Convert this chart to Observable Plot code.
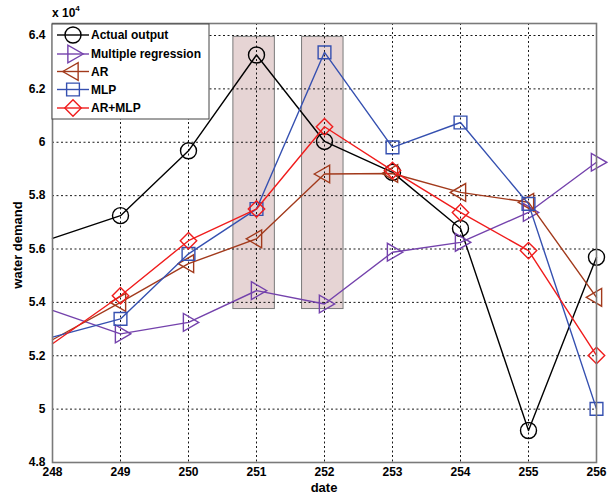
<!DOCTYPE html>
<html>
<head>
<meta charset="utf-8">
<script src="https://cdn.jsdelivr.net/npm/d3@7"></script>
<script src="https://cdn.jsdelivr.net/npm/@observablehq/plot@0.6"></script>
<style>
  body { margin: 0; background: #fff; }
  #chart { position: relative; width: 616px; height: 497px; }
  #chart svg { font-family: "Liberation Sans", Arial, sans-serif; }
</style>
</head>
<body>
<div id="chart"></div>
<script>
// Daily water demand (x 10^4) and the four model forecasts
const dates = [248, 249, 250, 251, 252, 253, 254, 255, 256];
const actualOutput       = [5.640, 5.725, 5.968, 6.327, 6.003, 5.887, 5.677, 4.920, 5.569];
const multipleRegression = [5.370, 5.282, 5.325, 5.444, 5.394, 5.588, 5.625, 5.737, 5.925];
const arForecast         = [5.260, 5.400, 5.545, 5.638, 5.881, 5.883, 5.812, 5.775, 5.419];
const mlpForecast        = [5.270, 5.338, 5.582, 5.750, 6.337, 5.981, 6.074, 5.769, 5.001];
const arMlpForecast      = [5.245, 5.425, 5.631, 5.750, 6.058, 5.894, 5.737, 5.594, 5.201];

const seriesNames = ["Actual output", "Multiple regression", "AR", "MLP", "AR+MLP"];
const seriesValues = [actualOutput, multipleRegression, arForecast, mlpForecast, arMlpForecast];

// Highlighted days (shaded bands)
const bandStart = [250.66, 251.67];
const bandEnd   = [251.27, 252.28];
const bandLow   = [5.375, 5.375];
const bandHigh  = [6.395, 6.395];

const xTicks = [248, 249, 250, 251, 252, 253, 254, 255, 256];
const yTicks = [4.8, 5.0, 5.2, 5.4, 5.6, 5.8, 6.0, 6.2, 6.4];

// Styling per series: colour, marker symbol, marker radius, rotation
const styles = [
  {color: "#000000", symbol: "circle",   r: 8,   rotate: 0},
  {color: "#7442ac", symbol: "triangle", r: 6.6, rotate: 90},
  {color: "#a23a1c", symbol: "triangle", r: 6.6, rotate: -90},
  {color: "#3550b0", symbol: "square",   r: 7.2, rotate: 0},
  {color: "#f01c1c", symbol: "diamond2", r: 7.4, rotate: 0}
];

const rows = seriesNames.flatMap((name, s) =>
  dates.map((d, i) => ({series: name, date: d, value: seriesValues[s][i]}))
);
const bands = bandStart.map((b, i) => ({x1: b, x2: bandEnd[i], y1: bandLow[i], y2: bandHigh[i]}));

const fmt = v => String(+v.toFixed(1));

const seriesMarks = seriesNames.flatMap((name, s) => {
  const st = styles[s];
  const data = rows.filter(d => d.series === name);
  return [
    Plot.line(data, {x: "date", y: "value", stroke: st.color, strokeWidth: 1.4}),
    Plot.dot(data.filter(d => d.date > 248), {
      x: "date", y: "value", symbol: () => st.symbol, r: st.r, rotate: st.rotate,
      stroke: st.color, fill: "none", strokeWidth: 1.4
    })
  ];
});

const chart = Plot.plot({
  width: 616,
  height: 497,
  marginLeft: 52,
  marginRight: 20,
  marginTop: 23,
  marginBottom: 35,
  style: {fontFamily: "'Liberation Sans', Arial, sans-serif", fontSize: "12px", fontWeight: "bold", color: "#000", background: "#fff"},
  x: {type: "linear", domain: [248, 256]},
  y: {type: "linear", domain: [4.8, 6.445]},
  symbol: {type: "identity"},
  marks: [
    Plot.rect(bands, {x1: "x1", x2: "x2", y1: "y1", y2: "y2", fill: "#e6d4d4", stroke: "#7a7a7a", strokeWidth: 1}),
    Plot.gridX(xTicks, {stroke: "#000", strokeOpacity: 0.9, strokeDasharray: "2,2.5", strokeWidth: 1}),
    Plot.gridY(yTicks, {stroke: "#000", strokeOpacity: 0.9, strokeDasharray: "2,2.5", strokeWidth: 1}),
    ...seriesMarks,
    Plot.frame({stroke: "#7a7a7a", strokeWidth: 1.6}),
    Plot.axisX(xTicks, {tickSize: 0, tickPadding: 5, label: null, tickFormat: d => String(d), fontWeight: "bold"}),
    Plot.axisY(yTicks, {tickSize: 0, tickPadding: 7, label: null, tickFormat: fmt, fontWeight: "bold"})
  ]
});

document.getElementById("chart").appendChild(chart);

// Axis titles and the exponent note
const svg = d3.select(chart);
svg.append("text")
  .attr("x", 324).attr("y", 492)
  .attr("text-anchor", "middle")
  .style("font-size", "13px").style("font-weight", "bold")
  .text("date");
svg.append("text")
  .attr("transform", "translate(22,245) rotate(-90)")
  .attr("text-anchor", "middle")
  .style("font-size", "13px").style("font-weight", "bold")
  .text("water demand");
const expo = svg.append("text")
  .attr("x", 52).attr("y", 17)
  .attr("text-anchor", "start")
  .style("font-size", "12px").style("font-weight", "bold");
expo.append("tspan").text("x 10");
expo.append("tspan").attr("dy", -6).style("font-size", "8px").text("4");

// Legend box in the upper-left corner of the axes
const lg = svg.append("g").attr("transform", "translate(52,24)");
lg.append("rect")
  .attr("width", 157).attr("height", 95)
  .attr("fill", "#fff").attr("stroke", "#444").attr("stroke-width", 1);
const legendRowY = [11, 30, 47.5, 65.5, 84];
const symbolMap = {circle: d3.symbolCircle, triangle: d3.symbolTriangle, square: d3.symbolSquare, diamond2: d3.symbolDiamond2};
seriesNames.forEach((name, s) => {
  const st = styles[s];
  const g = lg.append("g").attr("transform", `translate(0,${legendRowY[s]})`);
  g.append("line").attr("x1", 5).attr("x2", 37).attr("y1", 0).attr("y2", 0)
    .attr("stroke", st.color).attr("stroke-width", 1.4);
  g.append("path")
    .attr("d", d3.symbol(symbolMap[st.symbol], Math.PI * st.r * st.r)())
    .attr("transform", `translate(21,0) rotate(${st.rotate})`)
    .attr("fill", "none").attr("stroke", st.color).attr("stroke-width", 1.4);
  g.append("text").attr("x", 39).attr("y", 0).attr("dy", "0.35em")
    .attr("text-anchor", "start")
    .style("font-size", "12px").style("font-weight", "bold")
    .text(name);
});
</script>
</body>
</html>
